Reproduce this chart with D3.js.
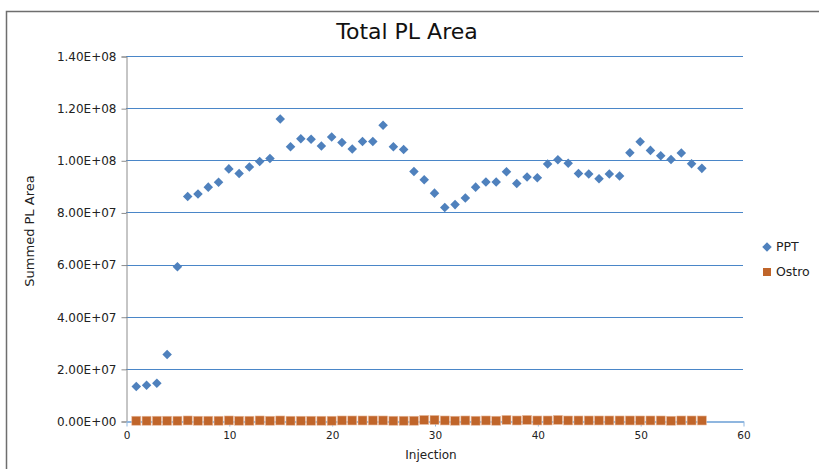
<!DOCTYPE html>
<html><head><meta charset="utf-8">
<script src="https://cdn.jsdelivr.net/npm/d3@7"></script>
<style>body{margin:0;background:#fff;} text{font-family:"DejaVu Sans",Verdana,sans-serif;}</style>
</head><body>
<svg id="c" width="819" height="469"></svg>
<script>
const injections = d3.range(1, 57);
const pptValues = [1.32e7,1.37e7,1.45e7,2.55e7,5.92e7,8.61e7,8.71e7,8.97e7,9.16e7,9.67e7,
 9.49e7,9.74e7,9.95e7,1.007e8,1.158e8,1.052e8,1.083e8,1.081e8,1.055e8,1.089e8,
 1.068e8,1.043e8,1.072e8,1.072e8,1.134e8,1.052e8,1.041e8,9.57e7,9.25e7,8.74e7,
 8.19e7,8.30e7,8.55e7,8.97e7,9.17e7,9.17e7,9.56e7,9.11e7,9.36e7,9.33e7,
 9.86e7,1.002e8,9.89e7,9.49e7,9.47e7,9.29e7,9.47e7,9.40e7,1.029e8,1.071e8,
 1.038e8,1.017e8,1.003e8,1.028e8,9.87e7,9.69e7];
const ostroValues = [1e5,1e5,1e5,1e5,1e5,2e5,1e5,1e5,1e5,2e5,1e5,1e5,2e5,1e5,2e5,1e5,1e5,1e5,1e5,1e5,
 2e5,2e5,2e5,2e5,2e5,1e5,1e5,1e5,4e5,4e5,2e5,1e5,2e5,1e5,2e5,1e5,4e5,2e5,4e5,2e5,
 2e5,4e5,2e5,2e5,2e5,2e5,2e5,2e5,2e5,2e5,2e5,2e5,1e5,2e5,2e5,2e5];
const yTicks = [0,2e7,4e7,6e7,8e7,1e8,1.2e8,1.4e8];
const yTickLabels = ["0.00E+00","2.00E+07","4.00E+07","6.00E+07","8.00E+07","1.00E+08","1.20E+08","1.40E+08"];
const xTicks = [0,10,20,30,40,50,60];
const seriesNames = ["PPT","Ostro"];
const colors = ["#4F81BD","#C0652A"];

const svg = d3.select("#c");
// chart border
svg.append("rect").attr("x",6.5).attr("y",11.5).attr("width",830).attr("height",470)
  .attr("fill","none").attr("stroke","#6e6e6e").attr("stroke-width",1.5);

const x = d3.scaleLinear().domain([0,60]).range([126,743]);
const y = d3.scaleLinear().domain([0,1.4e8]).range([421,56]);

// gridlines
svg.append("g").selectAll("line").data(yTicks.slice(1)).join("line")
  .attr("x1",126).attr("x2",743).attr("y1",d=>Math.round(y(d))+0.5).attr("y2",d=>Math.round(y(d))+0.5)
  .attr("stroke","#4A86C8").attr("stroke-width",1);

// y axis
const yAxis = d3.axisLeft(y).tickValues(yTicks).tickFormat((d,i)=>yTickLabels[i]).tickSize(5).tickPadding(5);
const gy = svg.append("g").attr("transform","translate(126.5,0.5)").call(yAxis);
gy.select(".domain").attr("stroke","#8c8c8c");
gy.selectAll(".tick line").attr("stroke","#8c8c8c");
gy.selectAll("text").attr("font-size",12).attr("fill","#222").attr("font-family","DejaVu Sans, Verdana, sans-serif");

// x axis
const xAxis = d3.axisBottom(x).tickValues(xTicks).tickSize(5).tickSizeOuter(0).tickPadding(5);
const gx = svg.append("g").attr("transform","translate(0.5,421.5)").call(xAxis);
gx.select(".domain").attr("stroke","#8fb6df").attr("stroke-width",2);
gx.selectAll(".tick line").attr("stroke","#8fb6df");
gx.selectAll("text").attr("font-size",10.5).attr("fill","#222").attr("font-family","DejaVu Sans, Verdana, sans-serif");

// Ostro squares
svg.append("g").selectAll("rect").data(ostroValues).join("rect")
  .attr("x",(d,i)=>x(injections[i])-4.5).attr("y",d=>y(d)-4.5)
  .attr("width",9).attr("height",9).attr("fill",colors[1])
  .attr("stroke","#e8b89a").attr("stroke-width",0.6);

// PPT diamonds
const diamond = d3.symbol().type(d3.symbolDiamond2).size(58);
svg.append("g").selectAll("path").data(pptValues).join("path")
  .attr("d",diamond)
  .attr("transform",(d,i)=>`translate(${x(injections[i])},${y(d)})`)
  .attr("fill",colors[0]);

// title
svg.append("text").attr("x",407).attr("y",39).attr("text-anchor","middle")
  .attr("font-size",22).attr("fill","#111").text("Total PL Area");
// axis titles
svg.append("text").attr("transform","translate(34,231) rotate(-90)").attr("text-anchor","middle")
  .attr("font-size",13).attr("fill","#222").text("Summed PL Area");
svg.append("text").attr("x",431).attr("y",459).attr("text-anchor","middle")
  .attr("font-size",12).attr("fill","#222").text("Injection");

// legend
const lg = svg.append("g");
lg.append("path").attr("d",diamond).attr("transform","translate(767,247)").attr("fill",colors[0]);
lg.append("rect").attr("x",763).attr("y",268).attr("width",8).attr("height",8).attr("fill",colors[1]);
lg.selectAll("text").data(seriesNames).join("text")
  .attr("x",776).attr("y",(d,i)=>251+i*25).attr("font-size",12.5).attr("fill","#222").text(d=>d);
</script>
</body></html>
